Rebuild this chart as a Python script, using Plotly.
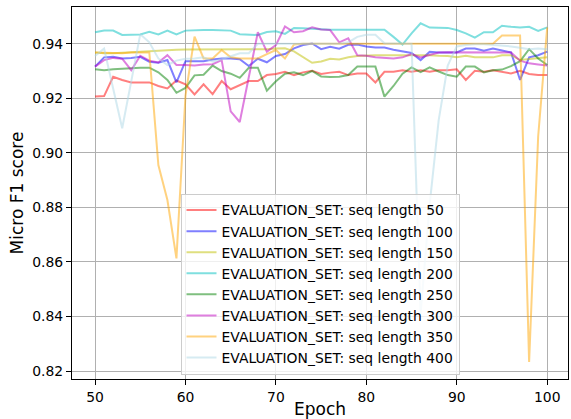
import plotly.graph_objects as go

epochs = list(range(50, 101))

seq50 = [0.9206, 0.9208, 0.9279, 0.9267, 0.9258, 0.9257, 0.9258, 0.9245, 0.9236, 0.9265,
         0.9251, 0.9214, 0.9251, 0.9215, 0.9263, 0.9233, 0.9249, 0.9263, 0.9263, 0.9285,
         0.9289, 0.9297, 0.9285, 0.9295, 0.9301, 0.9289, 0.9294, 0.9297, 0.9285, 0.9291,
         0.9291, 0.9258, 0.9297, 0.9297, 0.9303, 0.9297, 0.9303, 0.9297, 0.9303, 0.9303,
         0.9306, 0.9267, 0.9301, 0.9297, 0.9303, 0.9297, 0.9291, 0.9301, 0.9289, 0.9285, 0.9285]

seq100 = [0.9316, 0.9350, 0.9352, 0.9346, 0.9348, 0.9352, 0.9334, 0.9330, 0.9340, 0.9258,
          0.9336, 0.9336, 0.9336, 0.9342, 0.9346, 0.9346, 0.9343, 0.9318, 0.9345, 0.9332,
          0.9355, 0.9362, 0.9383, 0.9395, 0.9401, 0.9380, 0.9389, 0.9382, 0.9396, 0.9397,
          0.9390, 0.9386, 0.9386, 0.9378, 0.9371, 0.9366, 0.9340, 0.9370, 0.9368, 0.9369,
          0.9368, 0.9382, 0.9382, 0.9374, 0.9382, 0.9375, 0.9368, 0.9267, 0.9350, 0.9358, 0.9371]

seq150 = [0.9368, 0.9365, 0.9365, 0.9367, 0.9370, 0.9372, 0.9373, 0.9374, 0.9377, 0.9378,
          0.9379, 0.9379, 0.9378, 0.9378, 0.9378, 0.9378, 0.9378, 0.9378, 0.9378, 0.9380,
          0.9382, 0.9383, 0.9372, 0.9350, 0.9330, 0.9335, 0.9345, 0.9342, 0.9350, 0.9355,
          0.9357, 0.9358, 0.9358, 0.9358, 0.9358, 0.9360, 0.9358, 0.9358, 0.9356, 0.9355,
          0.9350, 0.9356, 0.9350, 0.9350, 0.9350, 0.9358, 0.9358, 0.9340, 0.9343, 0.9347, 0.9350]

seq200 = [0.9442, 0.9448, 0.9448, 0.9432, 0.9433, 0.9434, 0.9444, 0.9434, 0.9448, 0.9434,
          0.9448, 0.9450, 0.9450, 0.9450, 0.9450, 0.9448, 0.9435, 0.9434, 0.9432, 0.9443,
          0.9446, 0.9436, 0.9458, 0.9457, 0.9455, 0.9451, 0.9451, 0.9451, 0.9451, 0.9451,
          0.9451, 0.9451, 0.9451, 0.9425, 0.9397, 0.9438, 0.9475, 0.9459, 0.9459, 0.9458,
          0.9450, 0.9438, 0.9422, 0.9442, 0.9442, 0.9466, 0.9462, 0.9459, 0.9462, 0.9447, 0.9460]

seq250 = [0.9306, 0.9303, 0.9306, 0.9308, 0.9311, 0.9312, 0.9312, 0.9295, 0.9267, 0.9220,
          0.9238, 0.9284, 0.9286, 0.9320, 0.9300, 0.9290, 0.9275, 0.9312, 0.9312, 0.9228,
          0.9262, 0.9290, 0.9295, 0.9285, 0.9300, 0.9280, 0.9278, 0.9279, 0.9285, 0.9316,
          0.9316, 0.9316, 0.9206, 0.9245, 0.9290, 0.9313, 0.9296, 0.9313, 0.9298, 0.9285,
          0.9279, 0.9316, 0.9316, 0.9295, 0.9303, 0.9305, 0.9318, 0.9336, 0.9380, 0.9346, 0.9322]

seq300 = [0.9316, 0.9340, 0.9348, 0.9345, 0.9303, 0.9356, 0.9338, 0.9331, 0.9358, 0.9322,
          0.9322, 0.9320, 0.9324, 0.9325, 0.9340, 0.9152, 0.9113, 0.9280, 0.9442, 0.9371,
          0.9395, 0.9463, 0.9442, 0.9446, 0.9460, 0.9452, 0.9450, 0.9405, 0.9420, 0.9358,
          0.9356, 0.9350, 0.9347, 0.9346, 0.9350, 0.9362, 0.9350, 0.9360, 0.9368, 0.9369,
          0.9369, 0.9370, 0.9370, 0.9368, 0.9368, 0.9368, 0.9368, 0.9338, 0.9328, 0.9324, 0.9320]

seq350 = [0.9368, 0.9368, 0.9366, 0.9365, 0.9368, 0.9368, 0.9368, 0.8955, 0.8827, 0.8613,
          0.9210, 0.9426, 0.9346, 0.9346, 0.9377, 0.9350, 0.9346, 0.9346, 0.9346, 0.9362,
          0.9377, 0.9346, 0.9397, 0.9400, 0.9400, 0.9400, 0.9400, 0.9400, 0.9400, 0.9400,
          0.9400, 0.9400, 0.9400, 0.9400, 0.9400, 0.9400, 0.9400, 0.9400, 0.9400, 0.9400,
          0.9400, 0.9400, 0.9400, 0.9400, 0.9400, 0.9430, 0.9430, 0.9430, 0.8233, 0.9060, 0.9460]

seq400 = [0.9355, 0.9382, 0.9236, 0.9090, 0.9262, 0.9435, 0.9405, 0.9346, 0.9322, 0.9338,
          0.9345, 0.9346, 0.9350, 0.9334, 0.9343, 0.9355, 0.9365, 0.9365, 0.9400, 0.9400,
          0.9400, 0.9400, 0.9400, 0.9400, 0.9400, 0.9399, 0.9399, 0.9400, 0.9405, 0.9425,
          0.9433, 0.9433, 0.9402, 0.9400, 0.9400, 0.9400, 0.8410, 0.8810, 0.9120, 0.9320,
          0.9390, 0.9395, 0.9398, 0.9398, 0.9396, 0.9392, 0.9390, 0.9385, 0.9380, 0.9382, 0.9380]

series_labels = ["EVALUATION_SET: seq length 50", "EVALUATION_SET: seq length 100",
                 "EVALUATION_SET: seq length 150", "EVALUATION_SET: seq length 200",
                 "EVALUATION_SET: seq length 250", "EVALUATION_SET: seq length 300",
                 "EVALUATION_SET: seq length 350", "EVALUATION_SET: seq length 400"]
series_values = [seq50, seq100, seq150, seq200, seq250, seq300, seq350, seq400]
series_colors = ["rgba(255,0,0,0.5)", "rgba(0,0,255,0.5)", "rgba(191,191,0,0.5)",
                 "rgba(0,191,191,0.5)", "rgba(0,128,0,0.5)", "rgba(191,0,191,0.5)",
                 "rgba(255,165,0,0.5)", "rgba(173,216,230,0.5)"]

x_ticks = [50, 60, 70, 80, 90, 100]
y_ticks = [0.82, 0.84, 0.86, 0.88, 0.90, 0.92, 0.94]
y_tick_labels = ["0.82", "0.84", "0.86", "0.88", "0.90", "0.92", "0.94"]

fig = go.Figure()
for name, vals, col in zip(series_labels, series_values, series_colors):
    fig.add_trace(go.Scatter(x=epochs, y=vals, mode="lines", name=name,
                             line=dict(color=col, width=2)))

axis_common = dict(showgrid=True, gridcolor="#b0b0b0", gridwidth=1,
                   showline=True, linecolor="black", linewidth=1, mirror=True,
                   ticks="outside", ticklen=5, tickwidth=1, tickcolor="black",
                   zeroline=False, automargin=False)

fig.update_layout(
    width=571, height=419,
    margin=dict(l=72, r=3, t=7, b=40),
    paper_bgcolor="white", plot_bgcolor="white",
    font=dict(family="DejaVu Sans", size=13.9, color="black"),
    legend=dict(x=0.5, xanchor="center", y=0.012, yanchor="bottom",
                bgcolor="rgba(255,255,255,0.8)", bordercolor="#cccccc",
                borderwidth=1, font=dict(size=13.9), itemwidth=30),
    xaxis=dict(range=[47.45, 102.3], tickvals=x_ticks,
               title=dict(text="Epoch", standoff=12), **axis_common),
    yaxis=dict(range=[0.81707, 0.95346], tickvals=y_ticks, ticktext=y_tick_labels,
               title=dict(text="Micro F1 score", standoff=4), **axis_common),
)

fig.write_html("out.html", config={"displayModeBar": False},
               post_script="document.body.style.margin='0';document.body.style.overflow='hidden';")
